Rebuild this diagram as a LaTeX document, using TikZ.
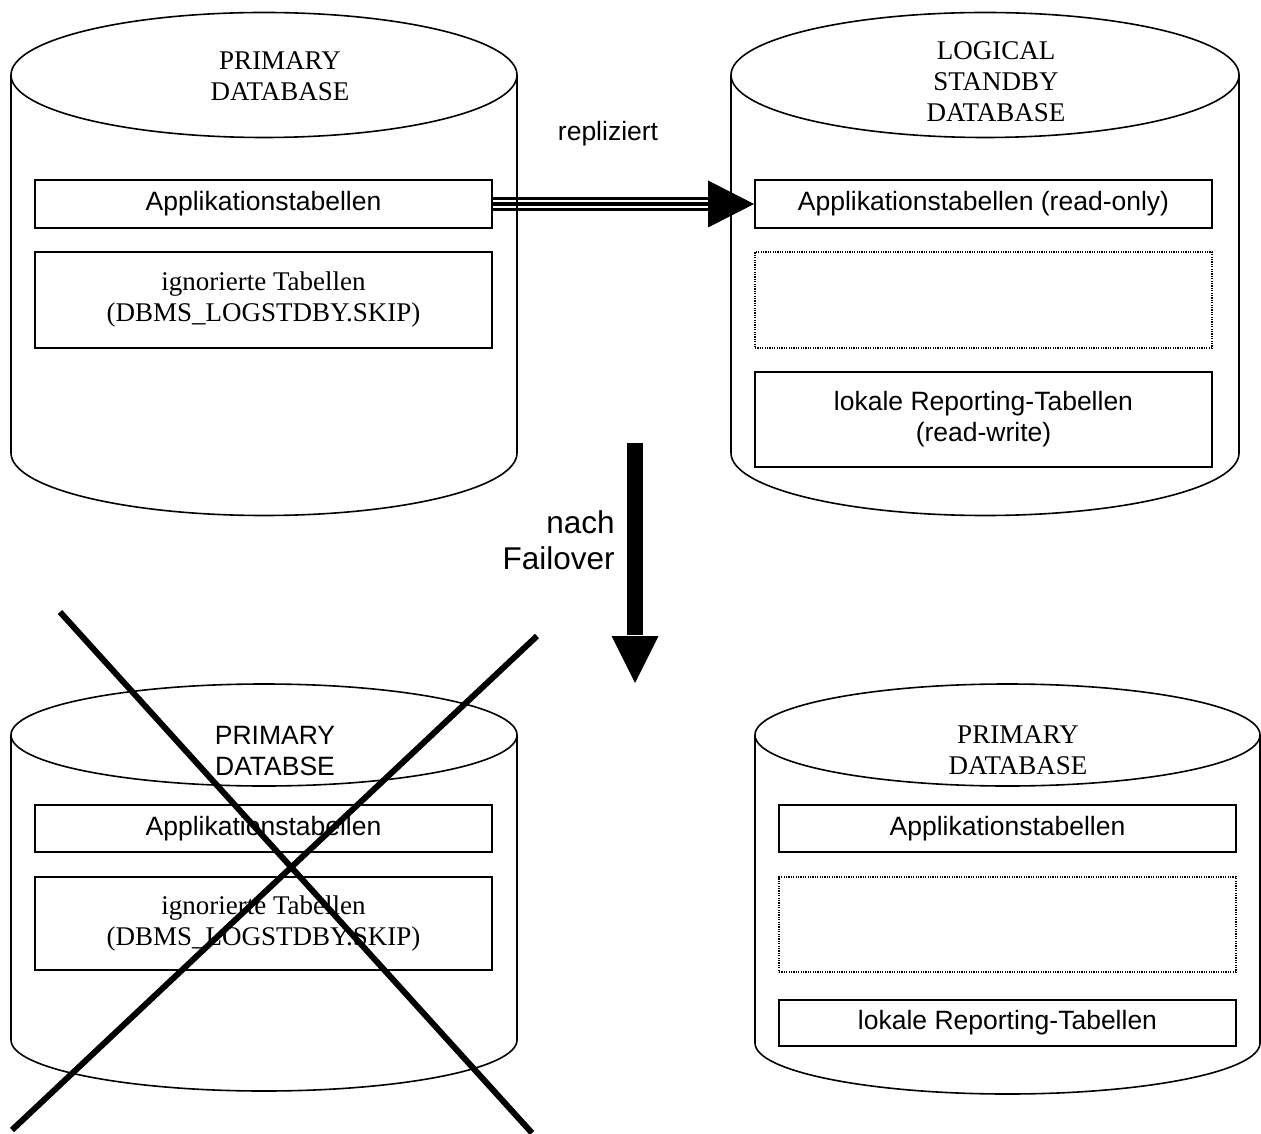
\documentclass[tikz,border=0pt]{standalone}
\usepackage{fontspec}
\setmainfont{Liberation Serif}
\setsansfont{Liberation Sans}
\usetikzlibrary{calc}
\pgfdeclarelayer{background}
\pgfsetlayers{background,main}
\newcommand\dbcyl[5]{%
  \draw[cyl] (#1,-#2) ellipse [x radius=#3*0.5pt, y radius=#4*0.5pt];
  \draw[cyl] ({#1-#3},-#2) -- ({#1-#3},-#5)
     arc[start angle=180, end angle=360, x radius=#3*0.5pt, y radius=#4*0.5pt]
     -- ({#1+#3},-#2);
}
\begin{document}
\begin{tikzpicture}[x=0.5pt,y=0.5pt,
  cyl/.style={line width=0.8pt},
  tbox/.style={draw, line width=0.9pt, inner sep=0pt, minimum width=228.5pt, align=center, fill=white},
  dotbox/.style={draw, line width=0.65pt, dash pattern=on 0.6pt off 0.6pt, inner sep=0pt, minimum width=228.5pt},
  sanstxt/.style={font=\sffamily\fontsize{13.25}{15.5}\selectfont},
  seriftxt/.style={font=\rmfamily\fontsize{13.5}{15.5}\selectfont},
  bigtxt/.style={font=\sffamily\fontsize{15.75}{18}\selectfont},
  xline/.style={line width=3pt},
]
\useasboundingbox (0,0) rectangle (1261,-1133);

% cylinders
\dbcyl{264}{75}{253}{62.5}{453}
\dbcyl{985}{75}{254}{62.5}{453}
\dbcyl{264}{735}{253}{51}{1040}
\dbcyl{1007.5}{735}{252.5}{51}{1043}

% top-left: primary database
\node[seriftxt, align=center] (tA) at (280,-76) {PRIMARY\\DATABASE};
\node[tbox, sanstxt, minimum height=24pt] (A1) at (263.5,-204) {Applikationstabellen};
\node[tbox, seriftxt, minimum height=48pt] (A2) at (263.5,-300) {ignorierte Tabellen\\(DBMS\_LOGSTDBY.SKIP)};

% top-right: logical standby
\node[seriftxt, align=center] (tB) at (996,-82) {LOGICAL\\STANDBY\\DATABASE};
\node[tbox, sanstxt, minimum height=24pt] (B1) at (983.5,-204) {Applikationstabellen (read-only)};
\node[dotbox, minimum height=48pt] (B2) at (983.5,-300) {};
\node[tbox, sanstxt, minimum height=47.5pt] (B3) at (983.5,-419.5) {lokale Reporting-Tabellen\\(read-write)};

% replication arrow
\coordinate (hb) at (708,-204);
\begin{pgfonlayer}{background}
  \draw[line width=7.4pt] (A1.east) -- (hb);
  \draw[white, line width=4.3pt] (A1.east) -- (hb);
  \draw[line width=2.4pt] (A1.east) -- (hb);
\end{pgfonlayer}
\fill ([yshift=11.75pt]hb) -- (B1.west) -- ([yshift=-11.75pt]hb) -- cycle;
\node[sanstxt] (rep) at (608,-134) {repliziert};

% failover arrow
\coordinate (ds) at (635,-443);
\coordinate (dh) at (635,-636);
\coordinate (dt) at (635,-683);
\draw[line width=8pt] (ds) -- ([yshift=0.5pt]dh);
\fill ([xshift=-11.75pt]dh) -- (dt) -- ([xshift=11.75pt]dh) -- cycle;
\node[bigtxt, align=right, anchor=east, inner sep=0pt] (nf) at (615,-540) {nach\\Failover};

% bottom-left: old primary (crossed out)
\node[sanstxt, align=center] (tC) at (275,-751) {PRIMARY\\DATABSE};
\node[tbox, sanstxt, minimum height=23.5pt] (C1) at (263.5,-828.5) {Applikationstabellen};
\node[tbox, seriftxt, minimum height=46.5pt] (C2) at (263.5,-923.5) {ignorierte Tabellen\\(DBMS\_LOGSTDBY.SKIP)};

% bottom-right: new primary
\node[seriftxt, align=center] (tD) at (1018,-750) {PRIMARY\\DATABASE};
\node[tbox, sanstxt, minimum height=23.5pt] (D1) at (1007.5,-828.5) {Applikationstabellen};
\node[dotbox, minimum height=47.5pt] (D2) at (1007.5,-924.5) {};
\node[tbox, sanstxt, minimum height=23pt] (D3) at (1007.5,-1023) {lokale Reporting-Tabellen};

% cross
\coordinate (x1a) at (60,-612);
\coordinate (x1b) at (532,-1133);
\coordinate (x2a) at (12,-1130);
\coordinate (x2b) at (537,-636);
\draw[xline] (x1a) -- (x1b);
\draw[xline] (x2a) -- (x2b);
\end{tikzpicture}
\end{document}
